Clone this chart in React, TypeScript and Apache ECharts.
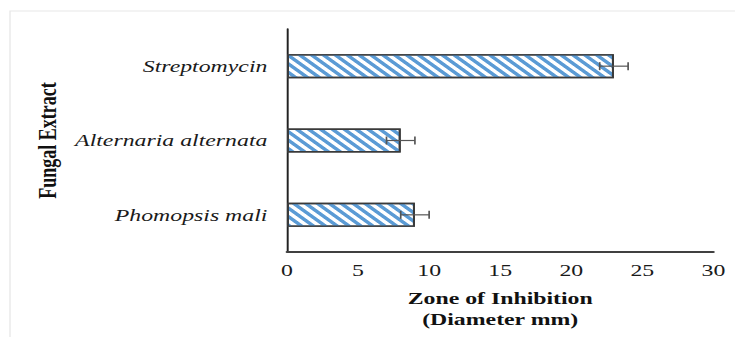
import React, { useEffect, useRef } from "react";
import * as echarts from "echarts";

const categories = ["Phomopsis mali", "Alternaria alternata", "Streptomycin"];
const values = [9, 8, 23];
const errors = [1, 1, 1];
const xTicks = [0, 5, 10, 15, 20, 25, 30];

// the reference picture is stretched horizontally; reproduce with a CSS scaleX
const SX = 1.4;
const W = 743;
const H = 345;

export default function App() {
  const ref = useRef<HTMLDivElement>(null);
  useEffect(() => {
    const chart = echarts.init(ref.current!, undefined, { renderer: "svg" });
    const serif = "'Liberation Serif', 'Times New Roman', serif";
    const errData = values.map((v, i) => [v, i, v - errors[i], v + errors[i]]);
    chart.setOption({
      animation: false,
      backgroundColor: "#ffffff",
      graphic: [
        {
          type: "rect",
          shape: { x: 10 / SX, y: 11, width: W, height: H },
          style: { fill: "none", stroke: "#e8e8e8", lineWidth: 1 },
          silent: true,
        },
      ],
      grid: { left: 287 / SX, right: 30 / SX, top: 29, bottom: 93 },
      xAxis: {
        type: "value",
        min: xTicks[0],
        max: xTicks[xTicks.length - 1],
        interval: 5,
        splitLine: { show: false },
        axisLine: { show: true, lineStyle: { color: "#404040", width: 2 } },
        axisTick: { show: false },
        axisLabel: { fontFamily: serif, fontSize: 17, color: "#1a1a1a", margin: 10 },
        name: "Zone of Inhibition\n(Diameter mm)",
        nameLocation: "middle",
        nameGap: 36,
        nameTextStyle: {
          fontFamily: serif,
          fontSize: 17,
          fontWeight: "bold",
          color: "#111",
          lineHeight: 21,
          verticalAlign: "top",
        },
      },
      yAxis: {
        type: "category",
        data: categories,
        axisLine: { show: true, lineStyle: { color: "#222", width: 1.4 } },
        axisTick: { show: false },
        axisLabel: {
          fontFamily: serif,
          fontSize: 17,
          fontStyle: "italic",
          color: "#1a1a1a",
          margin: 14,
        },
        name: "Fungal Extract",
        nameLocation: "middle",
        nameRotate: 90,
        nameGap: 162,
        nameTextStyle: {
          fontFamily: serif,
          fontSize: 18,
          fontWeight: "bold",
          color: "#111",
        },
      },
      series: [
        {
          type: "bar",
          data: values,
          barWidth: 24,
          itemStyle: {
            color: "#ffffff",
            borderColor: "#3a3a3a",
            borderWidth: 1.4,
            decal: {
              symbol: "rect",
              color: "#5b9bd5",
              dashArrayX: [1, 0],
              dashArrayY: [2.4, 2.4],
              rotation: Math.PI / 4,
            },
          },
        },
        {
          type: "custom",
          data: errData,
          z: 10,
          renderItem: (params: any, api: any) => {
            const idx = api.value(1);
            const lo = api.coord([api.value(2), idx]);
            const hi = api.coord([api.value(3), idx]);
            const h = 4;
            const style = { stroke: "#555", lineWidth: 1.2 };
            return {
              type: "group",
              children: [
                { type: "line", shape: { x1: lo[0], y1: lo[1], x2: hi[0], y2: hi[1] }, style },
                { type: "line", shape: { x1: lo[0], y1: lo[1] - h, x2: lo[0], y2: lo[1] + h }, style },
                { type: "line", shape: { x1: hi[0], y1: hi[1] - h, x2: hi[0], y2: hi[1] + h }, style },
              ],
            };
          },
        },
      ],
    });
    return () => chart.dispose();
  }, []);
  return (
    <div style={{ width: W, height: H, margin: -8, overflow: "hidden", background: "#fff" }}>
      <div
        ref={ref}
        style={{ width: W / SX, height: H, transform: `scaleX(${SX})`, transformOrigin: "0 0" }}
      />
    </div>
  );
}
